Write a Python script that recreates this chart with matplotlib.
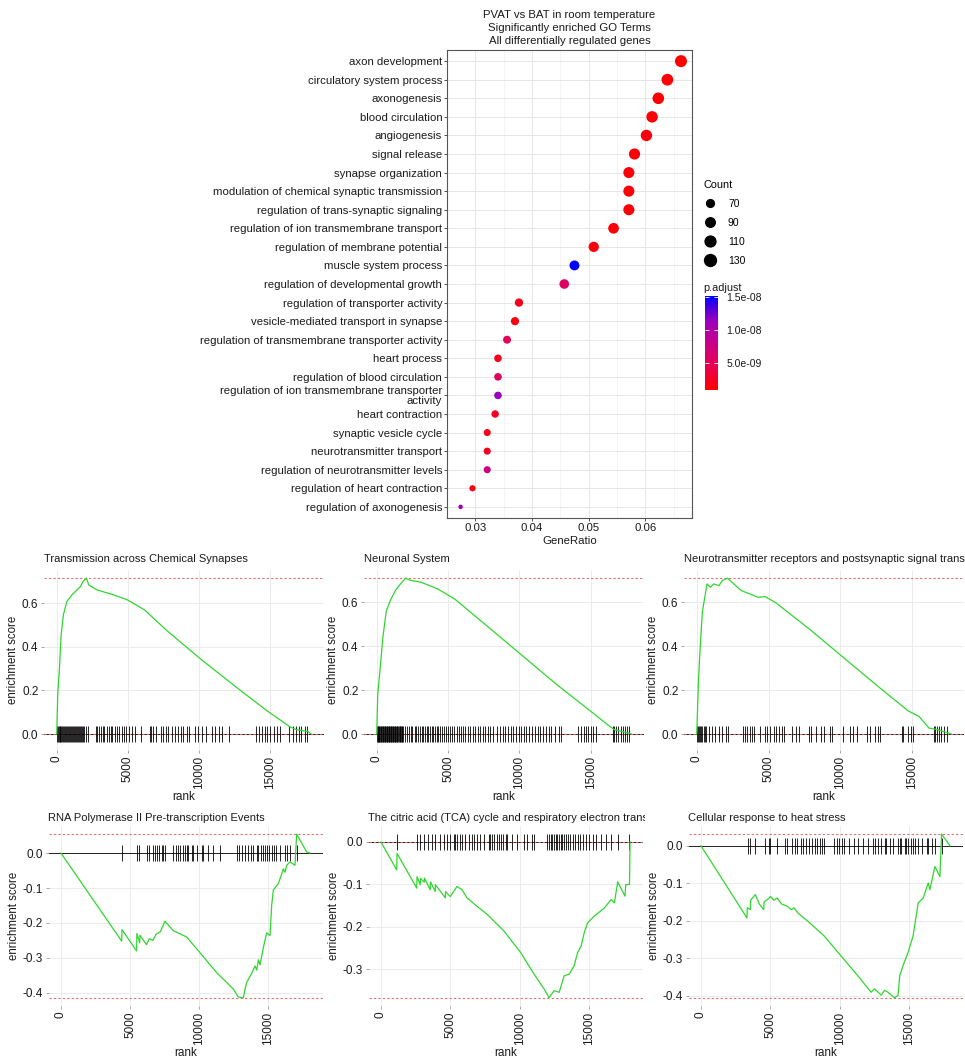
import numpy as np
import matplotlib
matplotlib.use('Agg')
import matplotlib.pyplot as plt
from matplotlib.colors import LinearSegmentedColormap, Normalize
from matplotlib.cm import ScalarMappable
from matplotlib.lines import Line2D
from matplotlib.transforms import Bbox, TransformedBbox
from matplotlib.ticker import FormatStrFormatter

plt.rcParams['font.family'] = ['Liberation Sans', 'DejaVu Sans']

# ---------------- GO dot plot data ----------------
go_terms = [
    'axon development', 'circulatory system process', 'axonogenesis',
    'blood circulation', 'angiogenesis', 'signal release', 'synapse organization',
    'modulation of chemical synaptic transmission',
    'regulation of trans-synaptic signaling',
    'regulation of ion transmembrane transport',
    'regulation of membrane potential', 'muscle system process',
    'regulation of developmental growth', 'regulation of transporter activity',
    'vesicle-mediated transport in synapse',
    'regulation of transmembrane transporter activity', 'heart process',
    'regulation of blood circulation',
    'regulation of ion transmembrane transporter\nactivity',
    'heart contraction', 'synaptic vesicle cycle', 'neurotransmitter transport',
    'regulation of neurotransmitter levels', 'regulation of heart contraction',
    'regulation of axonogenesis',
]
gene_ratio = [0.0663, 0.0639, 0.0623, 0.0612, 0.0602, 0.0581, 0.0571, 0.0571, 0.0571,
              0.0544, 0.0509, 0.0475, 0.0457, 0.0377, 0.0370, 0.0356, 0.0340, 0.0340,
              0.0340, 0.0335, 0.0321, 0.0321, 0.0321, 0.0295, 0.0274]
counts = [132, 127, 124, 122, 120, 116, 114, 114, 114, 108, 101, 95, 91, 75, 74, 71,
          68, 68, 68, 67, 64, 64, 64, 59, 55]
p_adjust = [0.9e-9, 1.2e-9, 1.1e-9, 1.3e-9, 1.5e-9, 1.2e-9, 1.4e-9, 1.2e-9, 1.2e-9,
            1.4e-9, 1.6e-9, 1.52e-8, 5.5e-9, 2.0e-9, 1.5e-9, 5.0e-9, 2.2e-9, 5.5e-9,
            1.15e-8, 2.5e-9, 2.0e-9, 2.2e-9, 7.5e-9, 2.0e-9, 1.1e-8]
count_breaks = [70, 90, 110, 130]
padj_breaks = [5e-9, 1e-8, 1.5e-8]
padj_labels = ['5.0e-09', '1.0e-08', '1.5e-08']

# ---------------- GSEA running score data ----------------
titles = ['Transmission across Chemical Synapses', 'Neuronal System',
          'Neurotransmitter receptors and postsynaptic signal transmission',
          'RNA Polymerase II Pre-transcription Events',
          'The citric acid (TCA) cycle and respiratory electron transport',
          'Cellular response to heat stress']

p1_rank = [0, 70, 190, 310, 470, 710, 1070, 1420, 1660, 1850, 2090, 2250, 2840, 4030,
           4980, 6160, 7820, 10190, 12560, 14690, 16350, 16830, 17650, 17890]
p1_es = [0, 0.18, 0.30, 0.455, 0.547, 0.608, 0.638, 0.661, 0.676, 0.70, 0.715, 0.684,
         0.661, 0.638, 0.615, 0.57, 0.47, 0.34, 0.218, 0.111, 0.035, 0.02, 0.012, 0.0]
p1_hits = [30, 90, 150, 210, 260, 330, 400, 470, 520, 600, 660, 730, 800, 870, 950, 1010,
           1080, 1150, 1230, 1300, 1370, 1420, 1500, 1580, 1650, 1720, 1800, 1880, 1950,
           2050, 2200, 2750, 2850, 2950, 3100, 3250, 3350, 3500, 3650, 3800, 3900, 4100,
           4250, 4400, 4600, 4700, 4900, 5100, 5300, 5500, 5950, 6550, 6650, 6800, 6950,
           7350, 7500, 7650, 7800, 8100, 8300, 8500, 8700, 8850, 9150, 9300, 9700, 9900,
           10200, 10500, 10900, 11100, 11400, 11600, 12100, 14000, 14200, 14400, 14650,
           14800, 15000, 15250, 15500, 15700, 16300, 16600, 16800, 17000, 17200, 17450,
           17600]

p2_rank = [0, 70, 240, 430, 670, 950, 1310, 1670, 2020, 2380, 3090, 4280, 5470, 7850,
           10230, 12610, 15000, 16180, 16660, 17610, 17850]
p2_es = [0, 0.18, 0.30, 0.44, 0.56, 0.608, 0.654, 0.684, 0.71, 0.70, 0.692, 0.661,
         0.615, 0.486, 0.356, 0.226, 0.104, 0.043, 0.02, 0.005, 0.0]
p2_hits = [20, 60, 100, 150, 190, 240, 280, 330, 370, 420, 470, 510, 560, 600, 650, 700,
           740, 790, 840, 880, 930, 980, 1020, 1070, 1120, 1170, 1210, 1260, 1310, 1350,
           1400, 1450, 1500, 1550, 1600, 1650, 1700, 1750, 1800, 1850, 2000, 2120, 2250,
           2380, 2500, 2650, 2780, 2900, 3020, 3150, 3250, 3380, 3500, 3600, 3720, 3850,
           3950, 4080, 4200, 4330, 4450, 4600, 4750, 4850, 5000, 5150, 5300, 5420, 5600,
           5750, 5900, 6050, 6200, 6400, 6550, 6750, 6900, 7100, 7250, 7450, 7600, 7800,
           7950, 8150, 8450, 8650, 8850, 9000, 9200, 9400, 9550, 9800, 9950, 10150, 10350,
           10500, 10700, 10900, 11100, 11300, 11450, 11650, 11850, 12050, 12250, 12500,
           12750, 12950, 14100, 14300, 14500, 14650, 14800, 15000, 15150, 15350, 16550,
           16650, 16800, 16950, 17100, 17250, 17400, 17550, 17700]

p3_rank = [0, 120, 190, 310, 400, 600, 715, 950, 1190, 1550, 1790, 2140, 3090, 4280,
           4760, 5470, 7850, 10230, 12610, 14760, 15470, 16180, 16780, 17730]
p3_es = [0, 0.24, 0.333, 0.47, 0.56, 0.638, 0.684, 0.669, 0.684, 0.676, 0.70, 0.71,
         0.654, 0.623, 0.626, 0.60, 0.478, 0.348, 0.218, 0.104, 0.081, 0.027, 0.02, 0.0]
p3_hits = [50, 120, 190, 260, 330, 400, 480, 560, 640, 830, 1070, 1300, 1550, 1780, 2030,
           2160, 3200, 3330, 3500, 3680, 3850, 4000, 4380, 4750, 4900, 5100, 5350, 5500,
           5700, 5950, 6070, 6650, 6900, 7100, 7800, 7950, 8280, 8650, 8850, 9250, 9400,
           10200, 10650, 10900, 11150, 11850, 12080, 12450, 12600, 12800, 14300, 14400,
           14700, 14950, 15050, 16500, 16620, 16750, 16900, 17000, 17200, 17450]

p4_rank = [0, 4400, 4420, 5480, 5500, 5700, 5720, 6200, 6400, 6650, 6900, 7200, 7530,
           8140, 9100, 10070, 11280, 12490, 12850, 13210, 13330, 13450, 13800, 14060,
           14180, 14300, 14420, 14660, 14900, 15140, 15260, 15380, 15750, 16110, 16230,
           16350, 16590, 16950, 17070, 17800, 18040]
p4_es = [0, -0.252, -0.219, -0.28, -0.23, -0.257, -0.235, -0.262, -0.245, -0.25, -0.232,
         -0.225, -0.195, -0.222, -0.24, -0.285, -0.342, -0.389, -0.412, -0.414, -0.39,
         -0.37, -0.345, -0.323, -0.335, -0.305, -0.32, -0.27, -0.228, -0.236, -0.15,
         -0.106, -0.087, -0.045, -0.055, -0.035, -0.025, -0.035, 0.054, 0.003, 0.0]
p4_hits = [4395, 5482, 5675, 6207, 6400, 6641, 6810, 6931, 7124, 7293, 7414, 7535, 8139,
           8308, 8501, 8622, 8815, 8984, 9105, 9225, 9467, 9588, 9829, 10191, 10312,
           10674, 11037, 11520, 12727, 12920, 13089, 13331, 13572, 13741, 13886, 14176,
           14297, 14465, 14659, 14780, 14900, 15094, 15263, 15432, 15577, 15867, 16229,
           16398, 16591, 17074]

p5_rank = [0, 1135, 1160, 2580, 2600, 2830, 2850, 3120, 3140, 3550, 3570, 3910, 3930,
           4640, 4660, 5000, 5480, 5850, 6210, 6930, 7660, 8860, 10070, 11040, 11760,
           12120, 12490, 12850, 13210, 13580, 13930, 14180, 14420, 14660, 14900, 15380,
           16110, 16590, 16830, 17070, 17600, 17650, 17920, 17960]
p5_es = [0, -0.066, -0.027, -0.109, -0.082, -0.101, -0.086, -0.095, -0.085, -0.113,
         -0.094, -0.117, -0.101, -0.132, -0.117, -0.129, -0.105, -0.113, -0.132, -0.152,
         -0.171, -0.21, -0.261, -0.312, -0.347, -0.368, -0.351, -0.355, -0.316, -0.312,
         -0.292, -0.261, -0.247, -0.214, -0.191, -0.175, -0.156, -0.136, -0.144, -0.094,
         -0.128, -0.101, -0.1, 0.0]
p5_hits = [1135, 2584, 2826, 3115, 3357, 3671, 3912, 4226, 4516, 4758, 4999, 5241, 5361,
           5482, 5724, 5844, 6086, 6327, 6569, 6738, 6931, 7173, 7414, 7776, 7897, 8018,
           8139, 8332, 8501, 8622, 8815, 8984, 9105, 9467, 9829, 10312, 10553, 10916,
           11037, 12003, 12123, 12244, 12365, 12486, 12607, 12727, 12848, 12969, 13089,
           13210, 13331, 13500, 13645, 13814, 13983, 14176, 14369, 14538, 14780, 15021,
           15263, 15504, 15867, 16229, 16591, 17074, 17919]

p6_rank = [0, 3310, 3330, 3550, 3570, 3910, 4200, 4520, 4540, 4880, 5000, 5250, 5480,
           5800, 6210, 6500, 6690, 7000, 7660, 8860, 10070, 11280, 12240, 12490, 12970,
           13210, 13450, 13930, 14180, 14300, 14540, 14900, 15260, 15630, 15990, 16350,
           16470, 16830, 17190, 17310, 17920]
p6_es = [0, -0.192, -0.165, -0.17, -0.145, -0.13, -0.155, -0.17, -0.15, -0.14, -0.135,
         -0.145, -0.139, -0.155, -0.161, -0.17, -0.165, -0.18, -0.2, -0.24, -0.293,
         -0.346, -0.39, -0.381, -0.398, -0.385, -0.39, -0.405, -0.398, -0.346, -0.319,
         -0.284, -0.24, -0.152, -0.139, -0.099, -0.117, -0.055, -0.082, 0.031, 0.0]
p6_hits = [3357, 3550, 3912, 4637, 4878, 4999, 5482, 6013, 6207, 6569, 6738, 6931, 7173,
           7366, 7535, 7776, 8018, 8187, 8380, 8549, 8742, 8863, 9588, 9781, 9950, 10119,
           10312, 10674, 11037, 11278, 11640, 12003, 12365, 12534, 12727, 12969, 13210,
           13331, 13572, 13814, 14176, 14297, 14417, 14659, 14780, 14900, 15094, 15263,
           15432, 15625, 15867, 16229, 16350, 16591, 16833, 17316]

top_yticks = [0.0, 0.2, 0.4, 0.6]
bottom_yticks = [-0.4, -0.3, -0.2, -0.1, 0.0]
rank_ticks = [0, 5000, 10000, 15000]

W, H = 965, 1064
fig = plt.figure(figsize=(W / 100, H / 100), dpi=100)
TXT = '#1a1a1a'


def px_box(x0, y0, x1, y1):
    # pixel box measured from the top-left corner -> figure fraction rect
    return [x0 / W, 1 - y1 / H, (x1 - x0) / W, (y1 - y0) / H]


def clip_x(artist, x0, x1):
    box = TransformedBbox(Bbox([[x0 / W, 0], [x1 / W, 1]]), fig.transFigure)
    artist.set_clip_box(box)
    artist.set_clip_on(True)


# ---------------- dot plot ----------------
colors = ['#FF0000', '#E80050', '#C90089', '#9700C0', '#0000FF']
cmap = LinearSegmentedColormap.from_list('padj', colors)
norm = Normalize(vmin=min(p_adjust), vmax=max(p_adjust))
cmin, cmax = min(counts), max(counts)


def dot_size(c):
    # ggplot scale_size(range = c(3, 8)) -> marker diameter in points
    return 1.08 * (3 + 5 * np.sqrt((np.asarray(c, float) - cmin) / (cmax - cmin)))


ax = fig.add_axes(px_box(447, 50, 692, 518))
ypos = np.arange(len(go_terms))
ax.scatter(gene_ratio, ypos, s=dot_size(counts) ** 2, c=p_adjust, cmap=cmap, norm=norm,
           linewidths=0, zorder=3)
ax.margins(x=0.05)
ax.set_ylim(len(go_terms) - 0.4, -0.6)
ax.set_yticks(ypos)
ax.set_yticklabels(go_terms, fontsize=8.2, color=TXT, linespacing=0.95)
ax.set_xticks([0.03, 0.04, 0.05, 0.06])
ax.set_xticks([0.025, 0.035, 0.045, 0.055, 0.065], minor=True)
ax.set_xticklabels(['0.03', '0.04', '0.05', '0.06'], fontsize=8.2, color=TXT)
ax.tick_params(length=2, pad=1.5, color='#333333', width=0.6)
ax.tick_params(which='minor', length=0)
ax.grid(True, which='major', color='#E6E6E6', lw=0.7, zorder=0)
ax.grid(True, which='minor', axis='x', color='#F0F0F0', lw=0.5, zorder=0)
ax.set_axisbelow(True)
for sp in ax.spines.values():
    sp.set_color('#555555')
    sp.set_linewidth(0.8)
ax.set_xlabel('GeneRatio', fontsize=8.2, color=TXT, labelpad=2)
ax.set_title('PVAT vs BAT in room temperature\nSignificantly enriched GO Terms\n'
             'All differentially regulated genes', fontsize=8.2, color=TXT,
             linespacing=1.38, pad=4)

# size legend
handles = [Line2D([], [], marker='o', ls='', color='black', markersize=dot_size(v))
           for v in count_breaks]
leg = fig.legend(handles, [str(v) for v in count_breaks], title='Count',
                 loc='upper left', bbox_to_anchor=(703 / W, 1 - 180 / H), frameon=False,
                 fontsize=7.5, title_fontsize=7.8, handlelength=1.3, handletextpad=1.1,
                 labelspacing=0.86, borderaxespad=0, borderpad=0, alignment='left')

# colour bar
cax = fig.add_axes(px_box(705, 296, 718, 390))
cb = fig.colorbar(ScalarMappable(norm=norm, cmap=cmap), cax=cax)
cb.outline.set_visible(False)
cb.set_ticks(padj_breaks)
cb.set_ticklabels(padj_labels, fontsize=7.5, color=TXT)
cax.tick_params(direction='in', length=3, color='white', width=0.6, left=True,
                right=True, pad=6)
fig.text(703 / W, 1 - 288 / H, 'p.adjust', fontsize=7.8, color=TXT, va='center')


# ---------------- GSEA panels ----------------
def draw_gsea(left, top, width, title, ranks, es, hits, yticks, title_pad, col_x0,
              label_clip=None):
    a = fig.add_axes(px_box(left, top, left + width, top + 180))
    h = (max(es) - min(es)) / 20
    a.plot(ranks, es, color='#2FD62F', lw=0.9, zorder=4)
    a.vlines(hits, -h, h, color='black', lw=0.6, zorder=3)
    a.axhline(0, color='black', lw=0.6, zorder=2)
    a.axhline(max(es), color='#E07070', lw=0.8, ls=(0, (2, 2)), zorder=2)
    a.axhline(min(es), color='#E07070', lw=0.8, ls=(0, (2, 2)), zorder=2)
    a.margins(x=0.05, y=0.05)
    a.autoscale_view()
    xlim, ylim = a.get_xlim(), a.get_ylim()
    a.set_yticks(yticks)
    a.yaxis.set_major_formatter(FormatStrFormatter('%.1f'))
    a.set_xticks(rank_ticks)
    a.set_xticklabels([str(v) for v in rank_ticks], rotation=90)
    # keep ggplot-style expanded limits, ticks outside them are simply not drawn
    a.set_xlim(xlim)
    a.set_ylim(ylim)
    a.tick_params(labelsize=8.5, labelcolor=TXT, length=2, color='#999999', width=0.6,
                  pad=2)
    a.grid(True, color='#EBEBEB', lw=0.7, zorder=0)
    a.set_axisbelow(True)
    for sp in a.spines.values():
        sp.set_visible(False)
    a.set_ylabel('enrichment score', fontsize=8.3, color=TXT, labelpad=2)
    xl = a.set_xlabel('rank', fontsize=8.5, color=TXT, labelpad=2)
    if label_clip is not None:
        box = TransformedBbox(Bbox([[0, 1 - label_clip / H], [1, 1]]), fig.transFigure)
        xl.set_clip_box(box)
        xl.set_clip_on(True)
    t = a.set_title(title, loc='left', fontsize=8, color=TXT, pad=title_pad)
    clip_x(t, col_x0, col_x0 + 325)
    return a


panels = [
    (44, 570, 280, p1_rank, p1_es, p1_hits, top_yticks, 5.5, 0),
    (364, 570, 280, p2_rank, p2_es, p2_hits, top_yticks, 5.5, 320),
    (684, 570, 280, p3_rank, p3_es, p3_hits, top_yticks, 5.5, 640),
    (48.5, 826, 274, p4_rank, p4_es, p4_hits, bottom_yticks, 3.5, 0),
    (368.5, 826, 274, p5_rank, p5_es, p5_hits, bottom_yticks, 3.5, 320),
    (688.5, 826, 274, p6_rank, p6_es, p6_hits, bottom_yticks, 3.5, 640),
]
for i, (l, t, w, r, e, hts, yt, tp, cx) in enumerate(panels):
    draw_gsea(l, t, w, titles[i], r, e, hts, yt, tp, cx,
              label_clip=806 if i < 3 else None)

fig.savefig('out.png', dpi=100)
